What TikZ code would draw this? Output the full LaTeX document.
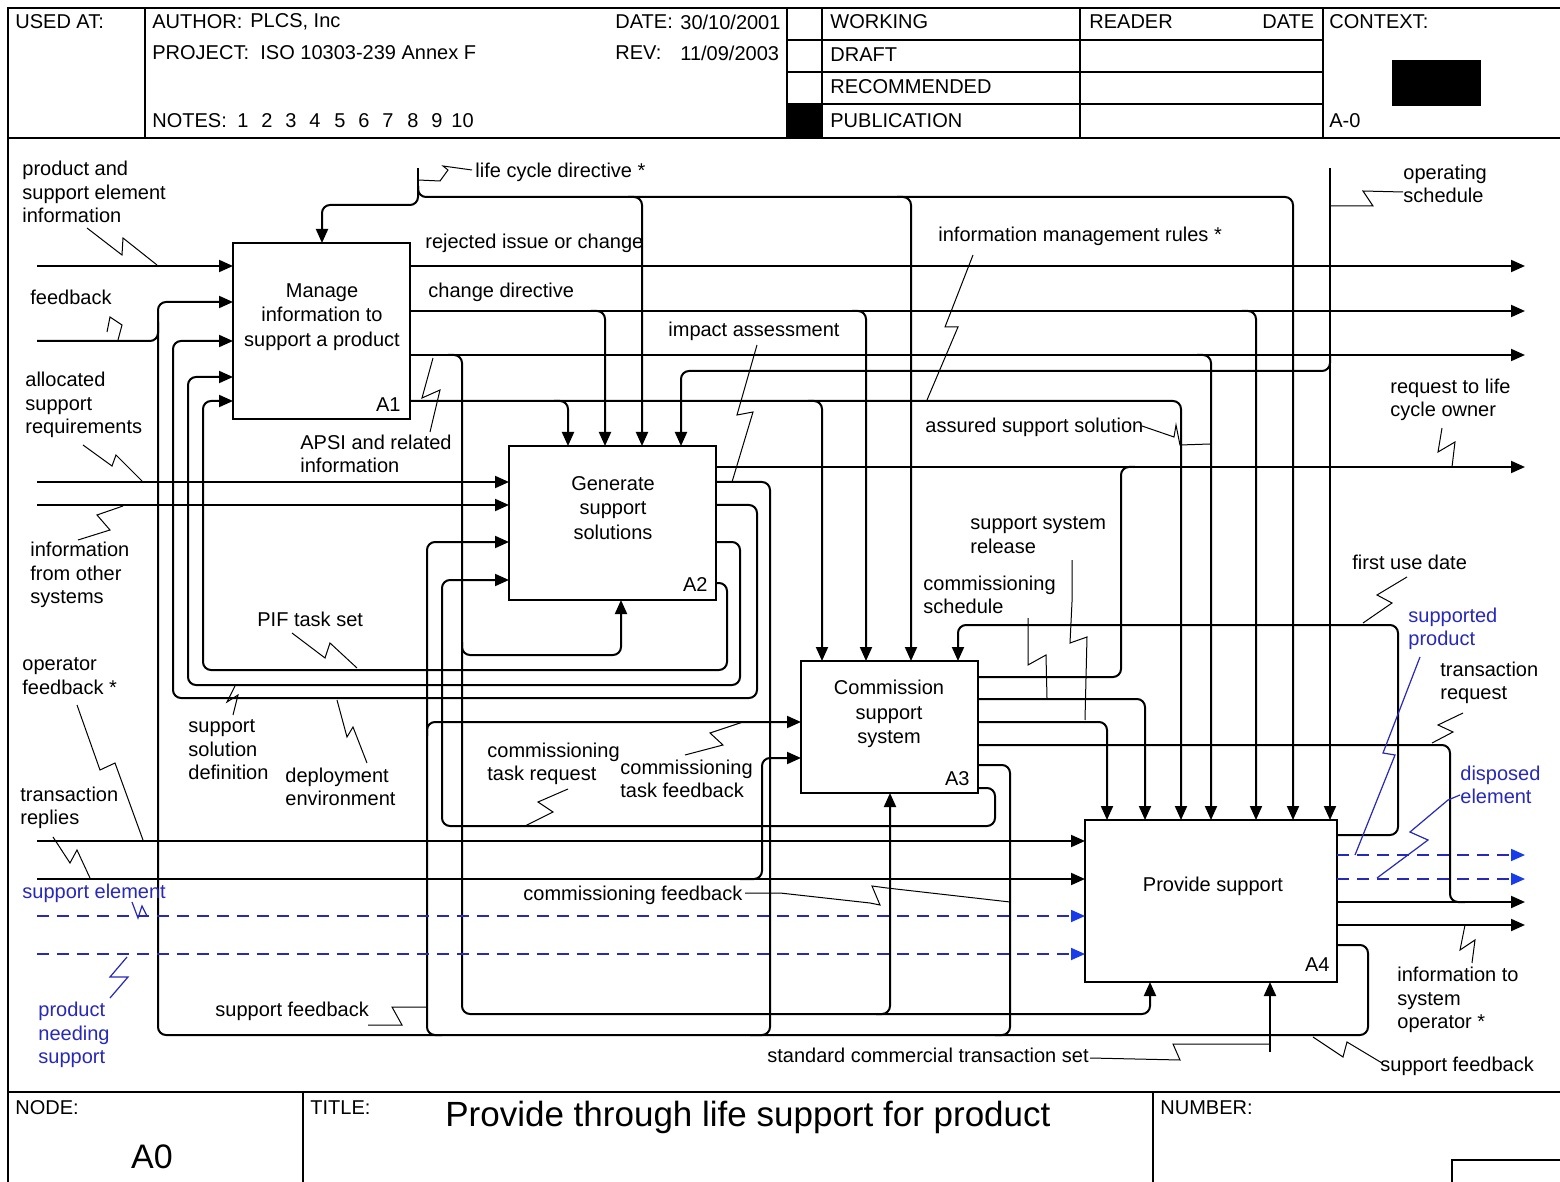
\documentclass[tikz,border=0pt]{standalone}
\usepackage{fontspec}
\setmainfont{Liberation Sans}
\usetikzlibrary{arrows.meta}
\definecolor{idefblue}{RGB}{40,40,185}
\definecolor{tipblue}{RGB}{25,60,235}
\begin{document}
\begin{tikzpicture}[x=0.5pt,y=-0.5pt,
  frame/.style={line width=1pt},
  flow/.style={line width=1pt, rounded corners=4pt},
  arr/.style={-{Triangle[length=7pt,width=6pt]}},
  bflow/.style={line width=0.9pt, idefblue, dash pattern=on 6pt off 4pt},
  barr/.style={-{Triangle[length=7pt,width=6pt,color=tipblue]}},
  sq/.style={line width=0.5pt},
  bsq/.style={line width=0.6pt, idefblue},
  box/.style={draw, line width=1pt, outer sep=0pt, inner sep=0pt},
  lbl/.style={font=\fontsize{10}{11.8}\selectfont, inner sep=0pt, anchor=west, align=left},
  blbl/.style={lbl, text=idefblue},
  ctr/.style={font=\fontsize{10}{12.2}\selectfont, inner sep=0pt, align=center},
  cornr/.style={font=\fontsize{10}{12}\selectfont, inner sep=0pt, anchor=east},
]
\useasboundingbox (0,0) rectangle (1560,1182);
\fill[white] (0,0) rectangle (1560,1182);

% ---------- frame ----------
\draw[frame] (8,1182) -- (8,8) -- (1560,8);
\draw[frame] (8,138) -- (1560,138);
\draw[frame] (8,1092) -- (1560,1092);
\foreach \x in {145,787,822,1080,1323} \draw[frame] (\x,8) -- (\x,138);
\foreach \y in {40,72,104} \draw[frame] (787,\y) -- (1323,\y);
\fill (787,104) rectangle (822,138);
\fill (1392,60) rectangle (1481,106);
\draw[frame] (303,1092) -- (303,1182);
\draw[frame] (1153,1092) -- (1153,1182);
\draw[frame] (1452,1182) -- (1452,1160) -- (1560,1160);

% ---------- header text ----------
\node[lbl] (usedat) at (15,22) {USED AT:};
\node[lbl] (author) at (152,22) {AUTHOR:};
\node[lbl] (authorv) at (250,22) {PLCS, Inc};
\node[lbl] (project) at (152,53) {PROJECT:};
\node[lbl] (projectv) at (260,53) {ISO 10303-239 Annex F};
\node[lbl] (notes) at (152,121) {NOTES:};
\foreach \n/\x in {1/237,2/261,3/285,4/309,5/334,6/358,7/382,8/407,9/431,10/451}
  \node[lbl] (note\n) at (\x,121) {\n};
\node[lbl] (date) at (615,22) {DATE:};
\node[lbl] (datev) at (680,22) {30/10/2001};
\node[lbl] (rev) at (615,53) {REV:};
\node[lbl] (revv) at (680,53) {11/09/2003};
\node[lbl] (working) at (830,22) {WORKING};
\node[lbl] (draft) at (830,55) {DRAFT};
\node[lbl] (recommended) at (830,87) {RECOMMENDED};
\node[lbl] (publication) at (830,121) {PUBLICATION};
\node[lbl] (reader) at (1089,22) {READER};
\node[lbl] (rdate) at (1262,22) {DATE};
\node[lbl] (context) at (1329,22) {CONTEXT:};
\node[lbl] (azero) at (1329,121) {A-0};

% ---------- footer text ----------
\node[lbl] (nodelbl) at (15,1108) {NODE:};
\node[font=\fontsize{17}{20}\selectfont, inner sep=0pt] (nodenum) at (152,1157) {A0};
\node[lbl] (titlelbl) at (310,1108) {TITLE:};
\node[font=\fontsize{17.5}{20}\selectfont, inner sep=0pt, anchor=west] (title) at (445,1117) {Provide through life support for product};
\node[lbl] (numberlbl) at (1160,1108) {NUMBER:};

% ---------- activity boxes ----------
\node[box, minimum width=88.5pt, minimum height=88pt] (A1) at (321.5,331) {};
\node[box, minimum width=103.5pt, minimum height=77pt] (A2) at (612.5,523) {};
\node[box, minimum width=88.5pt, minimum height=66pt] (A3) at (889.5,727) {};
\node[box, minimum width=126pt, minimum height=81pt] (A4) at (1211,901) {};
\node[ctr] (A1t) at (322,317) {Manage\\information to\\support a product};
\node[ctr] (A2t) at (613,508) {Generate\\support\\solutions};
\node[ctr] (A3t) at (889,714) {Commission\\support\\system};
\node[ctr] (A4t) at (1213,886) {Provide support};
\node[cornr] (A1n) at (401,405) {A1};
\node[cornr] (A2n) at (708,585) {A2};
\node[cornr] (A3n) at (970,779) {A3};
\node[cornr] (A4n) at (1330,965) {A4};

% ---------- A1 inputs ----------
\draw[flow,arr] (37,266) -- (A1.west |- 0,266);
\draw[flow] (37,341) -- (158,341) -- (158,322);
\draw[flow,arr] (A4.east |- 0,945) -- (1368,945) -- (1368,1035) -- (158,1035) -- (158,302) -- (A1.west |- 0,302);
\draw[flow,arr] (A2.east |- 0,505) -- (757,505) -- (757,698) -- (173,698) -- (173,341) -- (A1.west |- 0,341);
\draw[flow,arr] (A2.east |- 0,542) -- (740,542) -- (740,685) -- (188,685) -- (188,377) -- (A1.west |- 0,377);
\draw[flow,arr] (A2.east |- 0,583) -- (727,583) -- (727,670) -- (203,670) -- (203,401) -- (A1.west |- 0,401);

% ---------- life cycle directive ----------
\draw[flow] (418,168) -- (418,186);
\draw[flow,arr] (418,186) -- (418,205) -- (322,205) -- (A1.north -| 322,0);
\draw[flow,arr] (418,186) -- (418,197) -- (1293,197) -- (A4.north -| 1293,0);
\draw[flow,arr] (628,197) -| (A2.north -| 642,0);
\draw[flow,arr] (897,197) -| (A3.north -| 911,0);

% ---------- A1 outputs ----------
\draw[flow,arr] (A1.east |- 0,266) -- (1525,266);
\draw[flow,arr] (A1.east |- 0,311) -- (1525,311);
\draw[flow,arr] (A1.east |- 0,355) -- (1525,355);
\draw[flow,arr] (A1.east |- 0,401) -- (1181,401) -- (A4.north -| 1181,0);
\draw[flow,arr] (591,311) -| (A2.north -| 605,0);
\draw[flow,arr] (852,311) -| (A3.north -| 866,0);
\draw[flow,arr] (1242,311) -| (A4.north -| 1256,0);
\draw[flow,arr] (1197,355) -| (A4.north -| 1211,0);
\draw[flow,arr] (554,401) -| (A2.north -| 568,0);
\draw[flow,arr] (808,401) -| (A3.north -| 822,0);

% ---------- operating schedule ----------
\draw[flow,arr] (1330,168) -- (A4.north -| 1330,0);
\draw[flow,arr] (1330,355) -- (1330,371) -- (681,371) -- (A2.north -| 681,0);

% ---------- mechanism line ----------
\draw[flow,arr] (448,355) -- (462,355) -- (462,1014) -- (1150,1014) -- (A4.south -| 1150,0);
\draw[flow,arr] (462,642) -- (462,655) -- (621,655) -- (A2.south -| 621,0);
\draw[flow,arr] (876,1014) -- (890,1014) -- (A3.south -| 890,0);

% ---------- A2 inputs ----------
\draw[flow,arr] (37,482) -- (A2.west |- 0,482);
\draw[flow,arr] (37,505) -- (A2.west |- 0,505);
\draw[flow,arr] (442,1035) -- (427,1035) -- (427,542) -- (A2.west |- 0,542);
\draw[flow,arr] (427,736) -- (427,722) -- (A3.west |- 0,722);
\draw[flow,arr] (A3.east |- 0,788) -- (995,788) -- (995,826) -- (442,826) -- (442,580) -- (A2.west |- 0,580);

% ---------- A2 outputs ----------
\draw[flow,arr] (A2.east |- 0,467) -- (1525,467);
\draw[flow] (A2.east |- 0,482) -- (770,482) -- (770,1035) -- (750,1035);

% ---------- A3 outputs ----------
\draw[flow] (A3.east |- 0,677) -- (1121,677) -- (1121,467) -- (1135,467);
\draw[flow,arr] (A3.east |- 0,699) -- (1145,699) -- (A4.north -| 1145,0);
\draw[flow,arr] (A3.east |- 0,722) -- (1107,722) -- (A4.north -| 1107,0);
\draw[flow] (A3.east |- 0,745) -- (1450,745) -- (1450,902) -- (1465,902);
\draw[flow] (A3.east |- 0,765) -- (1010,765) -- (1010,1035) -- (995,1035);

% ---------- A3 input from transaction replies ----------
\draw[flow,arr] (740,879) -- (762,879) -- (762,758) -- (A3.west |- 0,758);

% ---------- A4 inputs ----------
\draw[flow,arr] (37,841) -- (A4.west |- 0,841);
\draw[flow,arr] (37,879) -- (A4.west |- 0,879);
\draw[bflow,barr] (37,916) -- (A4.west |- 0,916);
\draw[bflow,barr] (37,954) -- (A4.west |- 0,954);

% ---------- A4 outputs ----------
\draw[flow,arr] (A4.east |- 0,835) -- (1398,835) -- (1398,625) -- (958,625) -- (A3.north -| 958,0);
\draw[bflow,barr] (A4.east |- 0,855) -- (1525,855);
\draw[bflow,barr] (A4.east |- 0,879) -- (1525,879);
\draw[flow,arr] (A4.east |- 0,902) -- (1525,902);
\draw[flow,arr] (A4.east |- 0,925) -- (1525,925);
\draw[flow,arr] (1270,1052) -- (A4.south -| 1270,0);

% ---------- labels ----------
\node[lbl] (l1) at (22,192) {product and\\support element\\information};
\node[lbl] (l2) at (30,297) {feedback};
\node[lbl] (l3) at (25,405) {allocated\\support\\requirements};
\node[lbl] (l4) at (30,575) {information\\from other\\systems};
\node[lbl] (l5) at (22,676) {operator\\feedback *};
\node[lbl] (l6) at (20,808) {transaction\\replies};
\node[blbl] (l7) at (22,893) {support element};
\node[blbl] (l8) at (38,1035) {product\\needing\\support};
\node[lbl] (l9) at (475,172) {life cycle directive *};
\node[lbl] (l10) at (425,243) {rejected issue or change};
\node[lbl] (l11) at (428,292) {change directive};
\node[lbl] (l12) at (668,331) {impact assessment};
\node[lbl] (l13) at (938,236) {information management rules *};
\node[lbl] (l14) at (1403,184) {operating\\schedule};
\node[lbl] (l15) at (1390,400) {request to life\\cycle owner};
\node[lbl] (l16) at (925,427) {assured support solution};
\node[lbl] (l17) at (300,454) {APSI and related\\information};
\node[lbl] (l18) at (257,619) {PIF task set};
\node[lbl] (l19) at (188,750) {support\\solution\\definition};
\node[lbl] (l20) at (285,787) {deployment\\environment};
\node[lbl] (l21) at (487,764) {commissioning\\task request};
\node[lbl] (l22) at (620,779) {commissioning\\task feedback};
\node[lbl] (l23) at (523,895) {commissioning feedback};
\node[lbl] (l24) at (215,1011) {support feedback};
\node[lbl] (l25) at (767,1055) {standard commercial transaction set};
\node[lbl] (l26) at (970,535) {support system\\release};
\node[lbl] (l27) at (923,595) {commissioning\\schedule};
\node[lbl] (l28) at (1352,562) {first use date};
\node[blbl] (l29) at (1408,629) {supported\\product};
\node[lbl] (l30) at (1440,683) {transaction\\request};
\node[blbl] (l31) at (1460,785) {disposed\\element};
\node[lbl] (l32) at (1397,1000) {information to\\system\\operator *};
\node[lbl] (l33) at (1380,1066) {support feedback};

% ---------- label squiggles ----------
\draw[sq] (87,228) -- (122,255) -- (123,238) -- (157,265);
\draw[sq] (107,332) -- (110,317) -- (122,325) -- (118,340);
\draw[sq] (83,445) -- (112,466) -- (116,455) -- (142,481);
\draw[sq] (78,540) -- (110,530) -- (97,515) -- (123,506);
\draw[sq] (77,705) -- (100,770) -- (115,763) -- (143,840);
\draw[sq] (53,837) -- (70,863) -- (77,850) -- (90,878);
\draw[bsq] (132,902) -- (138,918) -- (142,906) -- (147,916);
\draw[bsq] (110,998) -- (128,977) -- (110,977) -- (127,957);
\draw[sq] (418,180) -- (440,181) -- (448,170) -- (443,166) -- (472,170);
\draw[sq] (433,358) -- (422,398) -- (440,390) -- (430,432);
\draw[sq] (757,345) -- (737,415) -- (753,412) -- (732,482);
\draw[sq] (973,255) -- (945,327) -- (958,327) -- (927,400);
\draw[sq] (1330,206) -- (1373,206) -- (1363,191) -- (1403,192);
\draw[sq] (1442,428) -- (1438,452) -- (1455,442) -- (1452,467);
\draw[sq] (1142,426) -- (1174,437) -- (1176,425) -- (1180,445) -- (1210,444);
\draw[sq] (292,633) -- (325,658) -- (330,643) -- (357,668);
\draw[sq] (233,715) -- (238,695) -- (227,702) -- (235,686);
\draw[sq] (337,700) -- (347,737) -- (353,727) -- (367,763);
\draw[sq] (568,789) -- (538,802) -- (553,812) -- (525,826);
\draw[sq] (685,755) -- (723,745) -- (710,733) -- (743,722);
\draw[sq] (745,893) -- (780,893) -- (870,903) -- (880,905) -- (872,886) -- (887,888) -- (1010,902);
\draw[sq] (368,1025) -- (402,1025) -- (392,1007) -- (427,1007);
\draw[sq] (1072,560) -- (1072,602) -- (1070,643) -- (1087,637) -- (1085,720);
\draw[sq] (1028,618) -- (1028,665) -- (1046,655) -- (1047,698);
\draw[sq] (1407,577) -- (1377,595) -- (1392,603) -- (1363,623);
\draw[bsq] (1420,657) -- (1383,753) -- (1395,755) -- (1355,855);
\draw[sq] (1463,713) -- (1438,725) -- (1453,732) -- (1432,743);
\draw[bsq] (1460,795) -- (1448,800) -- (1410,832) -- (1428,840) -- (1377,878);
\draw[sq] (1472,963) -- (1475,940) -- (1460,950) -- (1465,925);
\draw[sq] (1313,1037) -- (1343,1057) -- (1347,1042) -- (1382,1063);
\draw[sq] (1090,1058) -- (1180,1060) -- (1173,1044) -- (1270,1044);
\end{tikzpicture}
\end{document}
